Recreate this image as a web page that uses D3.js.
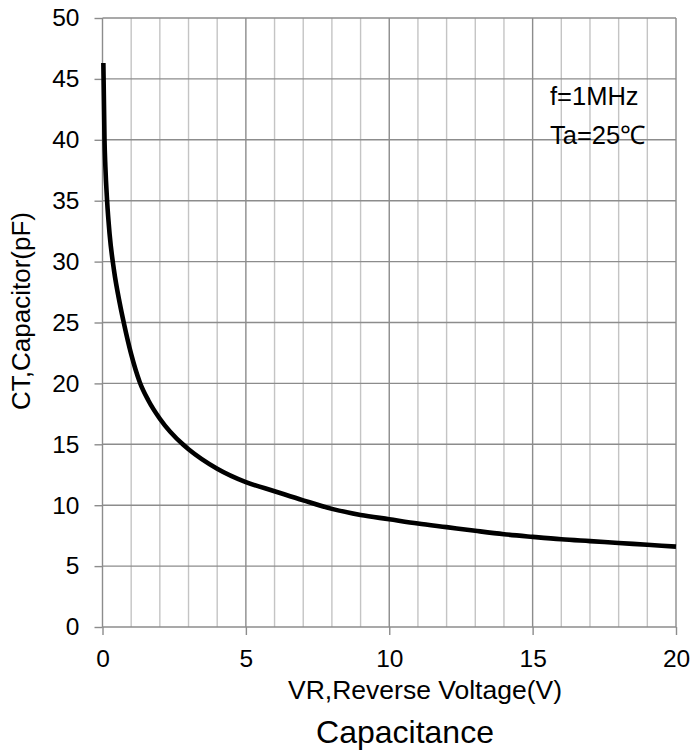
<!DOCTYPE html>
<html lang="en">
<head>
    <meta charset="UTF-8">
    <title>Capacitance</title>
    <script src="https://d3js.org/d3.v7.min.js"></script>
    <style>
        body { margin: 0; background: #fff; }
        text { font-family: "Liberation Sans", Arial, sans-serif; fill: #000; }
        .grid-minor { stroke: #c4c4c4; stroke-width: 1.4; }
        .grid-major { stroke: #8c8c8c; stroke-width: 1.4; }
        .axis path { display: none; }
        .axis line { stroke: #8c8c8c; stroke-width: 1.4; }
        .axis text { font-size: 24.5px; }
    </style>
</head>
<body>
    <svg width="691" height="751"></svg>

    <script>
        // reverse voltage (V) and capacitance (pF)
        const voltage = [0.03, 0.07, 0.1, 0.16, 0.25, 0.4, 0.6, 0.75, 1, 1.3, 1.6, 2, 2.8, 3, 4, 5, 6, 7, 8, 9, 10, 11, 12, 13, 14, 15, 16, 17, 18, 19, 20];
        const capacitance = [46.3, 40, 37.8, 35, 32.2, 29.3, 26.6, 24.9, 22.4, 20.1, 18.6, 17.1, 15, 14.6, 13.0, 11.9, 11.15, 10.4, 9.7, 9.2, 8.85, 8.5, 8.2, 7.9, 7.62, 7.4, 7.2, 7.05, 6.9, 6.75, 6.6];

        const xTicks = [0, 5, 10, 15, 20];
        const yTicks = [0, 5, 10, 15, 20, 25, 30, 35, 40, 45, 50];
        const notes = ["f=1MHz", "Ta=25\u2103"];

        const svg = d3.select("svg");
        const plotLeft = 102.5, plotRight = 676, plotTop = 18, plotBottom = 627;

        const x = d3.scaleLinear().domain([0, 20]).range([plotLeft, plotRight]);
        const y = d3.scaleLinear().domain([0, 50]).range([plotBottom, plotTop]);

        // minor vertical grid every 1 V
        svg.append("g").selectAll("line")
            .data(d3.range(0, 21).filter(v => v % 5 !== 0))
            .enter().append("line")
            .attr("class", "grid-minor")
            .attr("x1", d => x(d)).attr("x2", d => x(d))
            .attr("y1", plotTop).attr("y2", plotBottom);

        // major vertical grid
        svg.append("g").selectAll("line")
            .data(xTicks)
            .enter().append("line")
            .attr("class", "grid-major")
            .attr("x1", d => x(d)).attr("x2", d => x(d))
            .attr("y1", plotTop).attr("y2", plotBottom);

        // horizontal grid
        svg.append("g").selectAll("line")
            .data(yTicks)
            .enter().append("line")
            .attr("class", "grid-major")
            .attr("x1", plotLeft).attr("x2", plotRight)
            .attr("y1", d => y(d)).attr("y2", d => y(d));

        svg.append("g")
            .attr("class", "axis")
            .attr("transform", `translate(${plotLeft},0)`)
            .call(d3.axisLeft(y).tickValues(yTicks).tickSize(8).tickPadding(15));

        svg.append("g")
            .attr("class", "axis")
            .attr("transform", `translate(0,${plotBottom})`)
            .call(d3.axisBottom(x).tickValues(xTicks).tickSize(8).tickPadding(15));

        // the curve
        const line = d3.line()
            .x((d, i) => x(voltage[i]))
            .y(d => y(d))
            .curve(d3.curveMonotoneX);

        svg.append("path")
            .datum(capacitance)
            .attr("d", line)
            .attr("fill", "none")
            .attr("stroke", "#000")
            .attr("stroke-width", 4.6);

        // conditions
        svg.append("g").selectAll("text")
            .data(notes)
            .enter().append("text")
            .attr("x", 550)
            .attr("y", (d, i) => 105 + i * 39)
            .style("font-size", "25.5px")
            .text(d => d);

        svg.append("text")
            .attr("transform", "translate(30,311) rotate(-90)")
            .attr("text-anchor", "middle")
            .style("font-size", "26px")
            .text("CT,Capacitor(pF)");

        svg.append("text")
            .attr("x", 425)
            .attr("y", 699)
            .attr("text-anchor", "middle")
            .style("font-size", "26.5px")
            .text("VR,Reverse Voltage(V)");

        svg.append("text")
            .attr("x", 405)
            .attr("y", 743)
            .attr("text-anchor", "middle")
            .style("font-size", "32px")
            .text("Capacitance");
    </script>
</body>
</html>
